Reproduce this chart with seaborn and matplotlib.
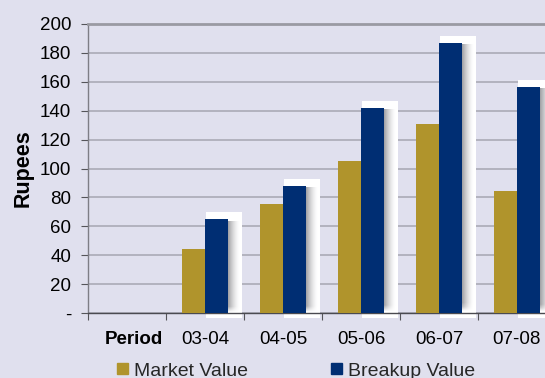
import numpy as np
import pandas as pd
import seaborn as sns
import matplotlib.pyplot as plt
from matplotlib.patches import Rectangle
from matplotlib import transforms

# Chart data
periods = ["Period", "03-04", "04-05", "05-06", "06-07", "07-08"]
market_value = [np.nan, 44, 75.5, 105, 131, 84.5]
breakup_value = [np.nan, 65, 88, 142, 187, 156.5]
series_names = ["Market Value", "Breakup Value"]
y_ticks = [0, 20, 40, 60, 80, 100, 120, 140, 160, 180, 200]
y_tick_labels = ["-", "20", "40", "60", "80", "100", "120", "140", "160", "180", "200"]

BG = "#E0E0EE"
GOLD = "#B0942C"
NAVY = "#002E73"

sns.set_theme(style="white")
plt.rcParams["font.family"] = ["Liberation Sans", "DejaVu Sans"]

df = pd.DataFrame({
    "Period": periods + periods,
    "Series": [series_names[0]] * len(periods) + [series_names[1]] * len(periods),
    "Rupees": market_value + breakup_value,
})

W, H = 545, 378
fig = plt.figure(figsize=(W / 100, H / 100), dpi=100, facecolor=BG)
ax = fig.add_axes([88 / W, 65 / H, (W - 88) / W, 289 / H])
ax.set_facecolor(BG)

sns.barplot(data=df, x="Period", y="Rupees", hue="Series", order=periods,
            hue_order=series_names, palette=[GOLD, NAVY], width=0.58, gap=0,
            saturation=1, ax=ax, legend=False, zorder=3, linewidth=0)

XMAX = 5.36
ax.set_xlim(-0.5, XMAX)
ax.set_ylim(0, 200)

# pixel -> data unit factors
ux = (XMAX + 0.5) / (W - 88)
uy = 200 / 289

# white backing box and soft grey shadow behind the Breakup Value bars
ny, nx = 64, 48
xs = np.linspace(0, 1, nx)
ys = np.linspace(0, 1, ny)
for p in ax.containers[1]:
    h = p.get_height()
    if not np.isfinite(h) or h <= 0:
        continue
    x0, w = p.get_x(), p.get_width()
    ax.add_patch(Rectangle((x0 + 1 * ux, -5 * uy), w + 13 * ux, h + 12 * uy,
                           facecolor="white", linewidth=0, zorder=1.6,
                           clip_on=False))
    top = h - 2 * uy
    fade_px = 6
    vert = np.clip((top - ys * top) / (fade_px * uy), 0, 1)[::-1]
    horiz = (1 - xs) ** 1.6
    alpha = 0.75 * np.outer(vert, horiz)
    img = np.zeros((ny, nx, 4))
    img[..., :3] = (0.50, 0.50, 0.52)
    img[..., 3] = alpha
    ax.imshow(img, extent=(x0 + w, x0 + w + 12 * ux, 0, top), origin="lower",
              aspect="auto", interpolation="bilinear", zorder=1.8)

ax.set_xlim(-0.5, XMAX)
ax.set_ylim(0, 200)
ax.set_aspect("auto")

# axes styling
ax.set_axisbelow(True)
ax.yaxis.grid(True, color="#ABABB6", linewidth=1.2, zorder=0.5)
ax.xaxis.grid(False)
ax.spines["right"].set_visible(False)
ax.spines["top"].set_color("#9A9AA2")
ax.spines["top"].set_linewidth(2)
ax.spines["left"].set_color("#7E7E86")
ax.spines["left"].set_linewidth(1)
ax.spines["bottom"].set_color("#4A4A50")
ax.spines["bottom"].set_linewidth(1)

ax.set_yticks(y_ticks)
ax.set_yticklabels(y_tick_labels)
ax.tick_params(axis="y", which="major", length=5, width=0.8, color="#55555A",
               pad=7, labelsize=13.5, labelcolor="black", left=True)

ax.set_xticks(range(len(periods)))
ax.set_xticklabels(periods)
ax.set_xticks(np.arange(-0.5, 5.0, 1.0), minor=True)
ax.tick_params(axis="x", which="major", length=0, pad=13, labelsize=13.5,
               labelcolor="black")
ax.tick_params(axis="x", which="minor", length=5, width=0.8, color="#55555A",
               bottom=True)
ax.set_xlabel("")
ax.set_ylabel("")

first = ax.get_xticklabels()[0]
first.set_fontweight("bold")
first.set_transform(first.get_transform() +
                    transforms.ScaledTranslation(7 / 100, 0, fig.dpi_scale_trans))

fig.text(23 / W, 1 - 168 / H, "Rupees", rotation=90, fontsize=15.5,
         fontweight="bold", ha="center", va="center", color="black")

handles = [Rectangle((0, 0), 1, 1, color=GOLD), Rectangle((0, 0), 1, 1, color=NAVY)]
fig.legend(handles, series_names, loc="center",
           bbox_to_anchor=(296 / W, 1 - 371 / H), ncol=2, frameon=False,
           fontsize=14, handlelength=0.55, handleheight=0.55, handletextpad=0.3,
           columnspacing=4.3, borderpad=0)

fig.savefig("out.png", dpi=100, facecolor=BG)
